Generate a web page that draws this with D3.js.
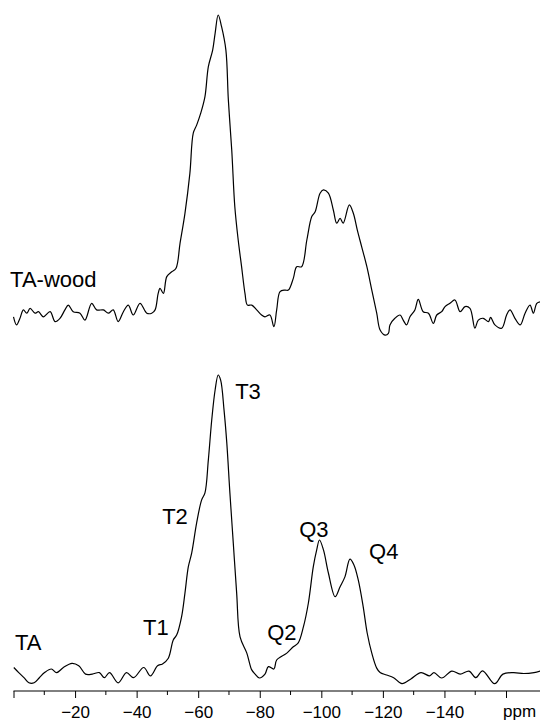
<!DOCTYPE html>
<html>
<head>
<meta charset="utf-8">
<script src="https://cdn.jsdelivr.net/npm/d3@7"></script>
<style>
  html, body { margin: 0; padding: 0; background: #fff; }
  svg { display: block; }
  text { font-family: "Liberation Sans", Arial, Helvetica, sans-serif; fill: #000; }
</style>
</head>
<body>
<svg id="chart" width="540" height="722"></svg>
<script>
// 29Si CP/MAS NMR spectra: chemical shift (ppm) and normalised intensity (peak = 100)
const woodPpm = [0, -1.0, -2.1, -3.2, -4.3, -5.4, -7.0, -8.1, -9.7, -11.9, -13.5, -15.1, -16.7, -17.8, -19.4,
  -21.6, -23.2, -25.4, -27.0, -29.2, -30.8, -32.4, -34.0, -35.7, -37.3, -38.9, -41.1, -43.3, -44.9, -46.0,
  -47.0, -47.6, -48.7, -49.8, -51.4, -52.8, -54.1, -55.7, -57.3, -58.4, -59.5, -60.8, -62.2, -63.3, -64.7,
  -65.5, -66.5, -67.6, -69.0, -69.8, -70.9, -71.9, -73.0, -74.1, -75.2, -76.0, -77.4, -79.0, -80.6, -81.7,
  -83.3, -84.6, -85.5, -86.6, -88.2, -89.3, -90.9, -92.0, -93.6, -95.3, -96.9, -98.0, -99.6, -100.7, -102.3,
  -103.9, -105.0, -106.1, -107.1, -109.1, -110.4, -111.7, -113.1, -114.8, -116.4, -118.0, -119.1, -120.7,
  -121.8, -122.3, -123.9, -125.6, -126.6, -127.7, -128.8, -130.4, -131.5, -133.1, -134.8, -136.4, -137.5,
  -139.1, -140.2, -141.8, -143.4, -145.1, -146.7, -148.3, -149.9, -151.0, -152.6, -154.3, -155.0, -156.4,
  -158.6, -160.2, -161.3, -162.9, -164.6, -166.2, -167.8, -168.9, -170.0, -171.1];
const woodInt = [-0.6, -3.3, -1.1, 1.7, 0.6, 2.2, 0.6, 1.1, -0.6, 1.1, -2.2, -1.1, 1.7, 3.3, 1.1,
  0.6, -1.7, 3.9, 1.7, 1.7, 0.6, 1.7, -2.2, 1.1, 3.3, 0, 3.9, 0.6, 0.6, 1.7,
  7.2, 8.9, 7.2, 12.8, 14.4, 15.6, 23.9, 33.9, 47.2, 60.6, 63.3, 67.2, 72.8, 82.8, 88.3,
  93.9, 100, 96.1, 88.3, 71.7, 55, 36.1, 25, 16.1, 7.2, 3.3, 3.3, 1.7, 0, -0.6,
  0, -3.9, 1.7, 7.8, 8.3, 8.3, 12.2, 16.1, 16.1, 25, 32.8, 34.4, 40.6, 41.7, 40.6,
  35, 30.6, 32.2, 30.6, 36.7, 33.9, 28.3, 22.8, 16.1, 8.3, 0.6, -5, -6.7,
  -6.1, -3.3, -1.1, 0, -1.7, -3.3, -0.6, 1.7, 5.2, 1.1, 0.6, -2.8, 0,
  1.1, 2.8, 3.9, 5, 1.1, 2.8, 2.2, -4.4, -1.7, -1.1, -2.2, -0.8, -3.3,
  -4.4, 0, 1.7, -1.1, -3.3, 0.6, 3.3, 0.6, 3.9, 4.4];

const taPpm = [-0.1, -1.7, -3.4, -5.0, -6.7, -8.4, -10.1, -12.3, -14.0, -16.2, -19.0, -21.2, -23.4, -25.6,
  -27.9, -29.5, -31.2, -34.0, -36.7, -39.0, -42.3, -44.5, -46.8, -48.4, -50.3, -51.9, -53.0, -54.6, -55.7,
  -56.8, -57.9, -59.5, -61.1, -62.2, -63.3, -64.4, -65.5, -66.5, -67.3, -68.4, -69.3, -70.3, -71.4, -72.5,
  -73.6, -75.8, -77.4, -78.5, -79.9, -81.7, -82.8, -84.6, -85.5, -88.8, -90.9, -92.5, -94.2, -95.8, -97.4,
  -98.5, -99.4, -100.7, -102.3, -104.5, -106.1, -107.7, -109.3, -110.6, -112.0, -113.6, -114.9, -116.4,
  -118.0, -119.1, -121.2, -123.5, -126.2, -129.1, -132.4, -135.2, -136.6, -139.1, -142.4, -145.1, -148.0,
  -150.2, -152.4, -156.3, -159.0, -162.4, -165.8, -169.1, -171.1];
const taInt = [2.5, 0.8, -0.9, -2.6, -2.6, -0.9, 0.8, 2, 0.8, 2.5, 3.9, 3.1, 0.3, 0.3,
  0.8, -0.9, 0.8, -2.6, 0.8, -0.9, 2.5, -0.3, 3.1, 3.7, 5.6, 11.7, 13.3, 19.4, 27.3,
  36.1, 40.7, 50.7, 58.3, 60.7, 71.7, 85, 95, 100, 98.3, 88.3, 77.3, 60.7, 44, 27.3,
  12.7, 7.3, 1.7, 0.3, -1, 0.3, 2.8, 2, 5, 7.3, 9.4, 10.7, 16.1, 24, 36.1,
  41.7, 45, 41.7, 34, 26.1, 29.4, 32.8, 38.6, 36.7, 31.7, 22.8, 14, 7.3,
  2.3, 0.8, 0, -0.9, -2.9, -1.3, 0.8, -0.3, 0.8, -1, 1.3, 0.3, 1.3,
  -0.9, 1.4, -2.9, 0.3, 0.8, 0.5, 0.8, 1.3];

// axis ticks (ppm)
const majorTicks = [0, -20, -40, -60, -80, -100, -120, -140, -160];
const minorTicks = [-10, -30, -50, -70, -90, -110, -130, -150];
const unitLabel = "ppm";

// sample names and peak assignments, placed in data units (ppm, intensity)
const sampleNames = ["TA-wood", "TA"];
const sampleLabelPpm = [1.1, -0.5];
const sampleLabelInt = [9.3, 8.3];
const peakNames = ["T1", "T2", "T3", "Q2", "Q3", "Q4"];
const peakLabelPpm = [-42.1, -48.3, -72.0, -82.4, -92.8, -115.5];
const peakLabelInt = [13.3, 50.3, 92, 11.7, 46, 38.7];

const svg = d3.select("#chart");
const W = 540, H = 722;
svg.append("rect").attr("width", W).attr("height", H).attr("fill", "#fff");

const x = d3.scaleLinear().domain([0, -160]).range([13.5, 506]);
// each trace has its own vertical scale (baseline -> 0, apex -> 100)
const yWood = d3.scaleLinear().domain([0, 100]).range([315, 15]);
const yTa = d3.scaleLinear().domain([0, 100]).range([675, 375]);

function trace(ppm, inten, y) {
  const pts = ppm.map((p, i) => [p, inten[i]]);
  const line = d3.line()
    .x(d => x(d[0]))
    .y(d => y(d[1]))
    .curve(d3.curveCatmullRom.alpha(0.5));
  svg.append("path")
    .attr("d", line(pts))
    .attr("fill", "none")
    .attr("stroke", "#000")
    .attr("stroke-width", 1.2)
    .attr("stroke-linejoin", "round");
}
trace(woodPpm, woodInt, yWood);
trace(taPpm, taInt, yTa);

// x axis
const axisY = 691;
const axisFont = 17;
const axisG = svg.append("g").attr("transform", `translate(0,${axisY})`);
axisG.call(d3.axisBottom(x)
  .tickValues(majorTicks)
  .tickSizeInner(7)
  .tickSizeOuter(0)
  .tickPadding(8)
  .tickFormat(d => (d === 0 || d === -160) ? "" : d3.format("d")(d)));
axisG.select(".domain").remove();
axisG.selectAll(".tick line").attr("stroke", "#000").attr("stroke-width", 1);
axisG.selectAll(".tick text").attr("font-size", axisFont).attr("fill", "#000")
  .attr("font-family", "'Liberation Sans', Arial, sans-serif");
axisG.append("line")
  .attr("x1", x(0)).attr("x2", W)
  .attr("y1", 0).attr("y2", 0)
  .attr("stroke", "#000").attr("stroke-width", 1);
axisG.selectAll(".minor")
  .data(minorTicks)
  .join("line")
  .attr("class", "minor")
  .attr("x1", d => x(d)).attr("x2", d => x(d))
  .attr("y1", 0).attr("y2", 4)
  .attr("stroke", "#000").attr("stroke-width", 1);
svg.append("text")
  .attr("x", x(-160) - 3)
  .attr("y", 717)
  .attr("font-size", axisFont)
  .text(unitLabel);

// trace names
const scales = [yWood, yTa];
sampleNames.forEach((n, i) => {
  svg.append("text")
    .attr("x", x(sampleLabelPpm[i]))
    .attr("y", scales[i](sampleLabelInt[i]))
    .attr("font-size", 22)
    .text(n);
});

// peak assignments on the lower trace
peakNames.forEach((n, i) => {
  svg.append("text")
    .attr("x", x(peakLabelPpm[i]))
    .attr("y", yTa(peakLabelInt[i]))
    .attr("font-size", 22)
    .text(n);
});
</script>
</body>
</html>
